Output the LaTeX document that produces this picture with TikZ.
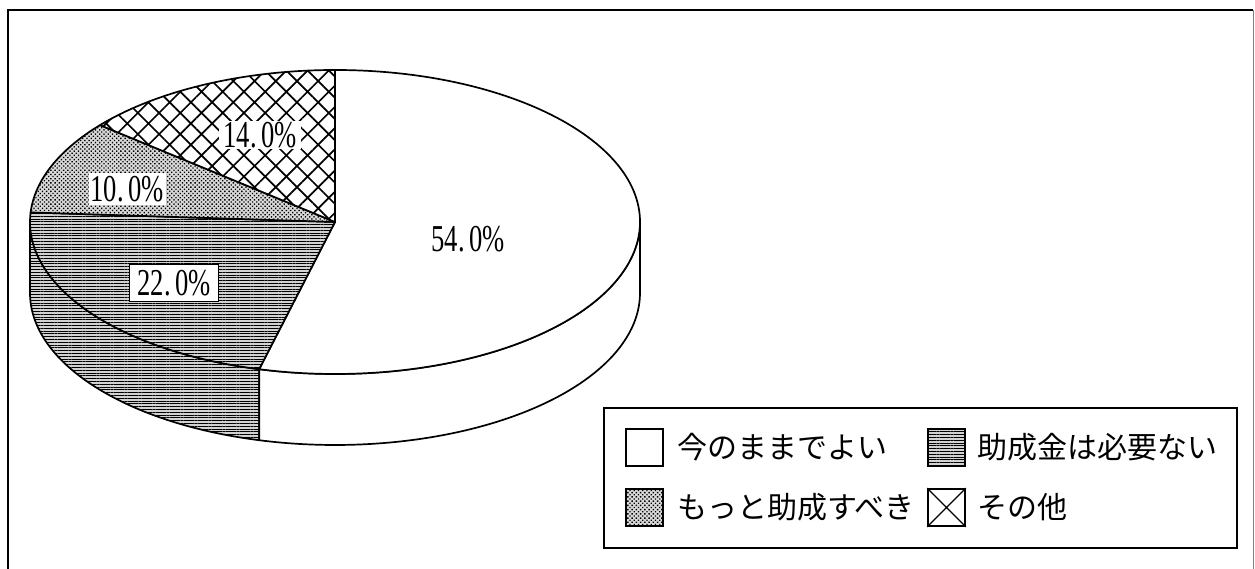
\documentclass[tikz,border=0pt]{standalone}
\usepackage{fontspec}
\newfontfamily\jpfont{Noto Sans CJK JP}
\newfontfamily\pctfont{Liberation Serif}
\usetikzlibrary{patterns.meta}
\usetikzlibrary{positioning}

\tikzset{
  rim/.style={line width=1.7pt, line join=round},
  slicewhite/.style={fill=white},
  slicelines/.style={preaction={fill=gray!35}, pattern={Lines[angle=0,distance=2.8pt,line width=0.8pt]}},
  slicedots/.style={preaction={fill=gray!30}, pattern={Dots[angle=45,distance=3pt,radius=0.95pt]}},
  slicecross/.style={preaction={fill=white}, pattern={Hatch[angle=45,distance=15pt,line width=1.7pt]}},
  pctbox/.style={inner sep=0pt, fill=white},
  keybox/.style={draw, line width=1.6pt, minimum size=37pt, inner sep=0pt},
  keytext/.style={font=\jpfont\fontsize{30}{30}\selectfont, inner sep=0pt}
}
\newcommand{\pcttext}[1]{\scalebox{0.7}[1]{\pctfont\fontsize{38}{40}\selectfont #1}}

\begin{document}
\begin{tikzpicture}[x=1pt,y=1pt]
  \useasboundingbox (0,0) rectangle (1255,569);

  % Frame
  \draw[line width=2.4pt] (8,0) -- (8,559) -- (1253,559);
  \draw[line width=0.8pt, gray] (1253,559) -- (1253,0);

  % Pie, centre of the top face
  \coordinate (centre) at (335,347);
  \begin{scope}[shift={(centre)}, rim]
    % Front side
    \draw[slicelines] (180:305 and 152) arc[start angle=180, end angle=255.6, x radius=305, y radius=152]
      -- ++(0,-71) arc[start angle=255.6, end angle=180, x radius=305, y radius=152] -- cycle;
    \draw[slicewhite] (255.6:305 and 152) arc[start angle=255.6, end angle=360, x radius=305, y radius=152]
      -- ++(0,-71) arc[start angle=360, end angle=255.6, x radius=305, y radius=152] -- cycle;

    % Top face
    \draw[slicewhite] (0,0) -- (90:305 and 152) arc[start angle=90, end angle=-104.4, x radius=305, y radius=152] -- cycle;
    \draw[slicelines] (0,0) -- (176.4:305 and 152) arc[start angle=176.4, end angle=255.6, x radius=305, y radius=152] -- cycle;
    \draw[slicedots] (0,0) -- (140.4:305 and 152) arc[start angle=140.4, end angle=176.4, x radius=305, y radius=152] -- cycle;
    \draw[slicecross] (0,0) -- (90:305 and 152) arc[start angle=90, end angle=140.4, x radius=305, y radius=152] -- cycle;
  \end{scope}

  % Percentages
  \node[pctbox, minimum width=82pt, minimum height=28pt] (p14) at (260,434) {\pcttext{14.\,0\%}};
  \node[pctbox, minimum width=77pt, minimum height=32pt] (p10) at (127,380) {\pcttext{10.\,0\%}};
  \node[pctbox, draw, line width=1.3pt, minimum width=89pt, minimum height=37pt] (p22) at (174,286) {\pcttext{22.\,0\%}};
  \node[inner sep=0pt] (p54) at (468,330) {\pcttext{54.\,0\%}};

  % Legend
  \node[draw, line width=1.6pt, fill=white, minimum width=633pt, minimum height=140pt, inner sep=0pt] (legend) at (920.5,91) {};
  \node[keybox, fill=white] (k54) at (644.5,121.5) {};
  \node[keytext, right=13pt of k54] (t54) {今のままでよい};
  \node[keybox, slicelines] (k22) at (946.5,121.5) {};
  \node[keytext, right=11pt of k22] (t22) {助成金は必要ない};
  \node[keybox, slicedots] (k10) at (644.5,61.5) {};
  \node[keytext, right=13pt of k10] (t10) {もっと助成すべき};
  \node[keybox, fill=white] (k14) at (946.5,61.5) {};
  \draw[line width=1.3pt] (k14.north west) -- (k14.south east) (k14.north east) -- (k14.south west);
  \node[keytext, right=11pt of k14] (t14) {その他};
\end{tikzpicture}
\end{document}
